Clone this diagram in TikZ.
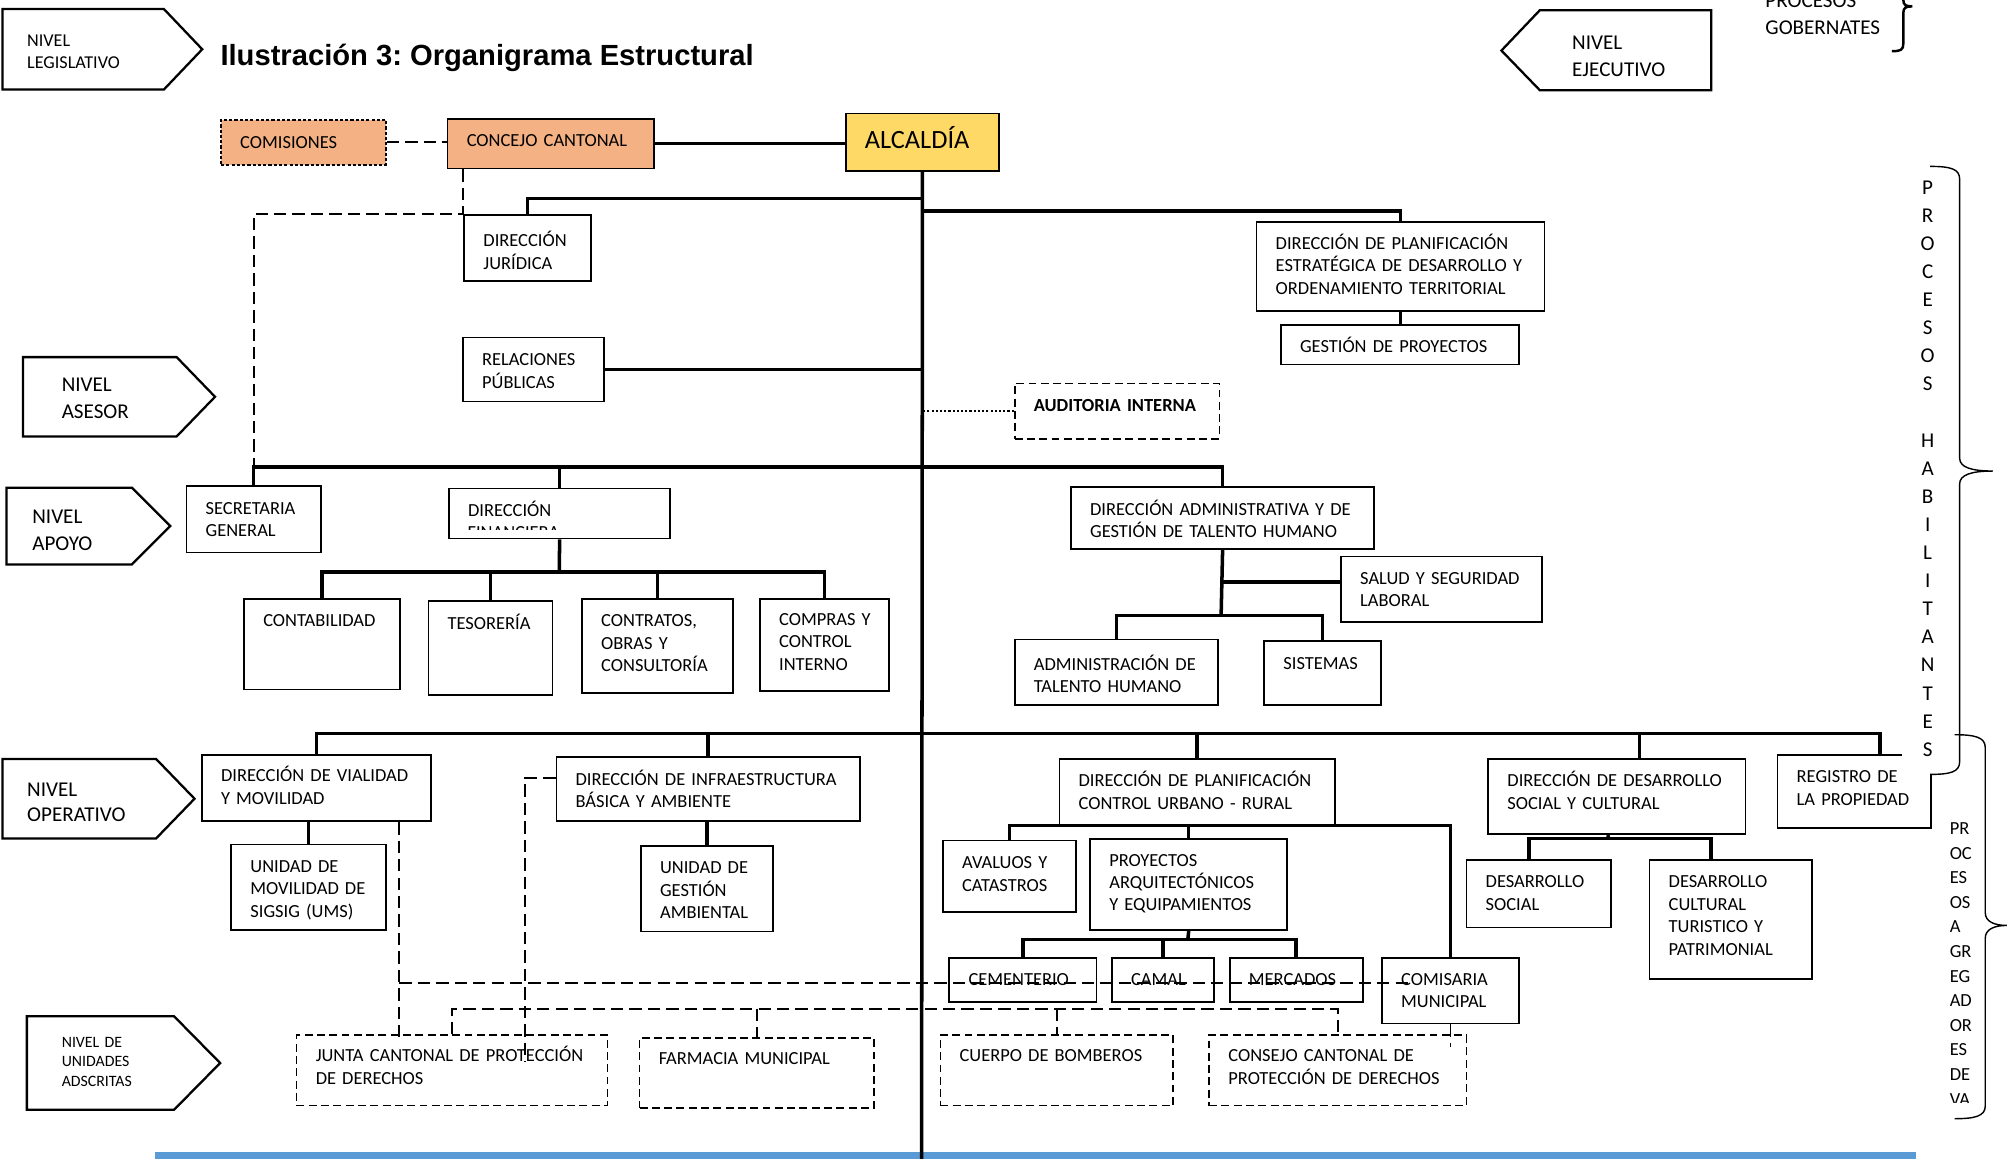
\documentclass[tikz,border=0pt]{standalone}
\usepackage{fontspec}
\setmainfont{Carlito}
\newfontfamily\titlefont{Liberation Sans}
\usepackage{xcolor}
\usepackage{tikz}
\definecolor{peach}{HTML}{F4B183}
\definecolor{gold}{HTML}{FFD966}
\definecolor{bandblue}{HTML}{5B9BD5}
\newcommand{\upx}{0.0256cm}
\frenchspacing

\begin{document}
\begin{tikzpicture}[
  x=0.0256cm, y=-0.0256cm,
  font=\fontsize{10.5}{12.75}\selectfont,
  unit/.style={draw, line width=1pt, anchor=north west, align=left, inner xsep=0.384cm, inner ysep=0pt},
  sz/.code n args={3}{%
    \pgfmathsetlengthmacro\ubw{(#1-30)*\upx}%
    \pgfmathsetlengthmacro\ubt{#3*\upx}%
    \pgfmathsetlengthmacro\ubd{(#2-#3)*\upx}%
    \tikzset{text width=\ubw, text height=\ubt, text depth=\ubd}},
  dunit/.style={unit, dash pattern=on 4.5pt off 2.5pt},
  conn/.style={line width=2pt},
  dashl/.style={line width=1.1pt, dash pattern=on 7pt off 3.5pt},
  dotl/.style={line width=0.8pt, dash pattern=on 1.2pt off 1.2pt},
  lvl/.style={line width=1.3pt, line join=miter},
  lvltxt/.style={anchor=base west, align=left, text width=3cm, inner sep=0pt},
  brc/.style={line width=0.8pt},
]
\useasboundingbox (0,0) rectangle (1568,905);
\fill[white] (0,0) rectangle (1568,905);
\fill[bandblue] (121,900) rectangle (1497,912);

\draw[lvl] (2,7) -- (128,7) -- (158,38.5) -- (128,70) -- (2,70) -- cycle;
\draw[lvl] (18,279) -- (138,279) -- (168,310) -- (138,341) -- (18,341) -- cycle;
\draw[lvl] (5,381) -- (103,381) -- (133,411) -- (103,441) -- (5,441) -- cycle;
\draw[lvl] (2,593) -- (122,593) -- (152,624) -- (122,655) -- (2,655) -- cycle;
\draw[lvl] (21,794) -- (136,794) -- (172,830.5) -- (136,867) -- (21,867) -- cycle;
\draw[lvl] (1337,8) -- (1203,8) -- (1173,39.5) -- (1203,70.5) -- (1337,70.5) -- cycle;
\node[lvltxt, font=\fontsize{10.3}{12.3}\selectfont] (leg) at (21,36.5) {NIVEL\\LEGISLATIVO};
\node[lvltxt, font=\fontsize{12}{15.2}\selectfont] (ase) at (48,306) {NIVEL\\ASESOR};
\node[lvltxt, font=\fontsize{12}{15.2}\selectfont] (apo) at (25,409) {NIVEL\\APOYO};
\node[lvltxt, font=\fontsize{12}{14.6}\selectfont] (ope) at (21,622) {NIVEL\\OPERATIVO};
\node[lvltxt, font=\fontsize{9}{11.1}\selectfont] (ads) at (48,818) {NIVEL DE\\UNIDADES\\ADSCRITAS};
\node[lvltxt, font=\fontsize{12}{15.3}\selectfont] (eje) at (1228,38.5) {NIVEL\\EJECUTIVO};

\node[anchor=base west, inner sep=0pt, font={\titlefont\bfseries\fontsize{16.6}{20}\selectfont}] (title) at (172,51.5) {Ilustración 3: Organigrama Estructural};
\node[lvltxt, text width=4cm, font=\fontsize{12}{15.6}\selectfont] (gob) at (1379,5.5) {PROCESOS\\GOBERNATES};
\draw[line width=1.4pt] (1478,-30) .. controls (1485,-30) and (1487,-28) .. (1487,-22) -- (1487,0) .. controls (1487,4) and (1489,5) .. (1494,5) .. controls (1489,5) and (1487,6) .. (1487,10) -- (1487,34) .. controls (1487,39) and (1485,40) .. (1478,40);

\node[unit, fill=peach, dash pattern=on 1.8pt off 1.2pt, sz={129}{35}{22}] (comis) at (172,93) {COMISIONES};
\node[unit, fill=peach, sz={161}{39}{22}] (concejo) at (349,92) {CONCEJO CANTONAL};
\node[unit, fill=gold, font=\fontsize{15}{18}\selectfont, sz={120}{45}{27}] (alcaldia) at (660,88) {ALCALDÍA};
\node[unit, sz={99}{52}{25}] (jur) at (362,167) {DIRECCIÓN\\JURÍDICA};
\node[unit, sz={225}{69}{21}] (planest) at (981,173) {DIRECCIÓN DE PLANIFICACIÓN\\ESTRATÉGICA DE DESARROLLO Y\\ORDENAMIENTO TERRITORIAL};
\node[unit, sz={186}{31}{22}] (gestproy) at (1000,253) {GESTIÓN DE PROYECTOS};
\node[unit, sz={110}{50}{22}] (relpub) at (361,263) {RELACIONES\\PÚBLICAS};
\node[dunit, font=\fontsize{10.5}{12.75}\selectfont\bfseries, sz={160}{43}{22}] (audit) at (792,299) {AUDITORIA INTERNA};
\node[unit, sz={105}{52}{22}] (secgen) at (145,379) {SECRETARIA\\GENERAL};
\node[unit, sz={173}{39}{22}] (dirfin) at (350,381) {DIRECCIÓN};
\begin{scope}
\clip (350,381) rectangle (523,414);
\node[lvltxt] (dirfin-cut) at (365,420.5) {FINANCIERA};
\end{scope}
\node[unit, sz={237}{48}{22}] (diradm) at (836,380) {DIRECCIÓN ADMINISTRATIVA Y DE\\GESTIÓN DE TALENTO HUMANO};
\node[unit, sz={157}{51}{22}] (salud) at (1047,434) {SALUD Y SEGURIDAD\\LABORAL};
\node[unit, sz={122}{71}{22}] (conta) at (190,467) {CONTABILIDAD};
\node[unit, sz={97}{73}{22}] (teso) at (334,469) {TESORERÍA};
\node[unit, sz={118}{74}{22}] (contr) at (454,467) {CONTRATOS,\\OBRAS~Y\\CONSULTORÍA};
\node[unit, sz={101}{72}{21}] (compr) at (593,467) {COMPRAS~Y\\CONTROL\\INTERNO};
\node[unit, sz={159}{51}{24}] (admth) at (792,499) {ADMINISTRACIÓN~DE\\TALENTO HUMANO};
\node[unit, sz={91}{50}{22}] (sist) at (987,500) {SISTEMAS};
\node[unit, sz={179}{52}{21}] (vial) at (157,589) {DIRECCIÓN DE VIALIDAD\\Y MOVILIDAD};
\node[unit, sz={121}{67}{22}] (ums) at (180,659) {UNIDAD DE\\MOVILIDAD~DE\\SIGSIG (UMS)};
\node[unit, sz={237}{50}{22}] (infra) at (434,591) {DIRECCIÓN DE INFRAESTRUCTURA\\BÁSICA Y AMBIENTE};
\node[unit, sz={103}{67}{22}] (uga) at (500,660) {UNIDAD DE\\GESTIÓN\\AMBIENTAL};
\node[unit, sz={215}{52}{22}] (plancu) at (827,592) {DIRECCIÓN DE PLANIFICACIÓN\\CONTROL URBANO - RURAL};
\node[unit, sz={104}{56}{22}] (aval) at (736,656) {AVALUOS~Y\\CATASTROS};
\node[unit, sz={154}{71}{21}] (proy) at (851,655) {PROYECTOS\\ARQUITECTÓNICOS\\Y EQUIPAMIENTOS};
\node[unit, sz={115}{34}{21}] (cem) at (741,748) {CEMENTERIO};
\node[unit, sz={80}{34}{21}] (camal) at (868,748) {CAMAL};
\node[unit, sz={104}{34}{21}] (merc) at (960,748) {MERCADOS};
\node[unit, sz={107}{51}{21}] (comisr) at (1079,748) {COMISARIA\\MUNICIPAL};
\node[unit, sz={201}{59}{22}] (dsoc) at (1162,592) {DIRECCIÓN DE DESARROLLO\\SOCIAL Y CULTURAL};
\node[unit, sz={113}{53}{22}] (desoc) at (1145,671) {DESARROLLO\\SOCIAL};
\node[unit, sz={127}{93}{22}] (decul) at (1288,671) {DESARROLLO\\CULTURAL\\TURISTICO~Y\\PATRIMONIAL};
\node[unit, sz={120}{57}{22}] (regis) at (1388,589) {REGISTRO~DE\\LA PROPIEDAD};
\node[dunit, sz={243}{55}{21}] (junta) at (231,808) {JUNTA CANTONAL DE PROTECCIÓN\\DE DERECHOS};
\node[dunit, sz={183}{55}{21}] (farm) at (499,810) {FARMACIA MUNICIPAL};
\node[dunit, sz={182}{55}{21}] (bomb) at (734,808) {CUERPO DE BOMBEROS};
\node[dunit, sz={201}{55}{21}] (ccpd) at (944,808) {CONSEJO CANTONAL DE\\PROTECCIÓN DE DERECHOS};

\coordinate (b-jur) at (720,155);
\coordinate (b-plan) at (720,165);
\coordinate (b-apoyo) at (720,365);
\coordinate (b-fin) at (437,447);
\coordinate (b-adm) at (954,481);
\coordinate (b-oper) at (720,573);
\coordinate (b-plancu) at (928,645);
\coordinate (b-proy) at (928,734);
\coordinate (b-dsoc) at (1256,655);
\coordinate (b-ads) at (720,788);
\coordinate (v-end) at (312,815);
\coordinate (m-end) at (1100,768);
\coordinate (i-top) at (410,608);
\coordinate (i-end) at (410,830);
\coordinate (c-end) at (1133,818);
\coordinate (spine-end) at (720,915);

\draw[conn] (concejo.east) -- (concejo.east -| alcaldia.west);
\draw[conn] (alcaldia.south) -- (spine-end);
\draw[conn] (b-jur) -| (jur.north);
\draw[conn] (b-plan) -| (planest.north);
\draw[conn] (planest.south) -- (planest.south |- gestproy.north);
\draw[conn] (relpub.east) -- (relpub.east -| b-apoyo);
\draw[conn] (secgen.north) |- (b-apoyo) -| (diradm.north);
\draw[conn] (b-apoyo -| dirfin.north) -- (dirfin.north);
\draw[conn] (dirfin.south) -- (b-fin);
\draw[conn] (conta.north) |- (b-fin) -| (compr.north);
\draw[conn] (b-fin -| teso.north) -- (teso.north);
\draw[conn] (b-fin -| contr.north) -- (contr.north);
\draw[conn] (diradm.south) -- (b-adm);
\draw[conn] (admth.north) |- (b-adm) -| (sist.north);
\draw[conn] ([yshift=5.5*\upx]salud.west) -- ([yshift=5.5*\upx]salud.west -| b-adm);
\draw[conn] (vial.north) |- (b-oper) -| ([xshift=20*\upx]regis.north);
\draw[conn] (b-oper -| infra.north) -- (infra.north);
\draw[conn] (b-oper -| plancu.north) -- (plancu.north);
\draw[conn] ([xshift=17.5*\upx]dsoc.north) |- (b-oper);
\draw[conn] (ums.north) -- (ums.north |- vial.south);
\draw[conn] (uga.north) -- (uga.north |- infra.south);
\draw[conn] (aval.north) |- (b-plancu) -| (comisr.north);
\draw[conn] (plancu.south -| proy.north) -- (proy.north);
\draw[conn] (proy.south) -- (b-proy);
\draw[conn] (cem.north) |- (b-proy) -| (merc.north);
\draw[conn] (b-proy -| camal.north) -- (camal.north);
\draw[conn] ([xshift=-6.5*\upx]dsoc.south) -- (b-dsoc);
\draw[conn] ([xshift=-7.5*\upx]desoc.north) |- (b-dsoc) -| ([xshift=-15.5*\upx]decul.north);

\draw[dashl] (comis.east) -- (comis.east -| concejo.west);
\draw[dashl] (concejo.south -| jur.north west) -- (jur.north west) -| (b-apoyo -| secgen.north);
\draw[dotl] (audit.west) -- (audit.west -| b-apoyo);
\draw[dashl] (vial.south -| v-end) -- (v-end);
\draw[dashl] (v-end |- m-end) -- (m-end);
\draw[dashl] (infra.west |- i-top) -- (i-top) -- (i-end);
\draw[dashl] (junta.north) |- (b-ads) -| (ccpd.north);
\draw[dashl] (b-ads -| farm.north) -- (farm.north);
\draw[dashl] (b-ads -| bomb.north) -- (bomb.north);
\draw[dashl] (comisr.south) -- (comisr.south |- c-end);

\node[fill=white, inner sep=0pt, text width={40*\upx}, align=center, minimum height={478*\upx}, font=\fontsize{12}{16}\selectfont] (habil) at (1506,366) {P\\R\\O\\C\\E\\S\\O\\S\\~\\H\\A\\B\\I\\L\\I\\T\\A\\N\\T\\E\\S};
\draw[brc] (1508,130) .. controls (1524,130) and (1531,132) .. (1531,140) -- (1531,358) .. controls (1531,365) and (1540,368) .. (1557,368) .. controls (1540,368) and (1531,371) .. (1531,378) -- (1531,595) .. controls (1531,603) and (1524,605) .. (1508,605);
\begin{scope}
\clip (1500,560) rectangle (1560,861);
\node[lvltxt, text width=1.2cm, font=\fontsize{10.5}{14}\selectfont] (agreg) at (1523,652) {PR\\OC\\ES\\OS\\A\\GR\\EG\\AD\\OR\\ES\\DE\\VA};
\end{scope}
\draw[brc] (1527,574) .. controls (1543,574) and (1551,576) .. (1551,584) -- (1551,713) .. controls (1551,720) and (1558,723) .. (1568,723) .. controls (1558,723) and (1551,726) .. (1551,733) -- (1551,864) .. controls (1551,872) and (1543,874) .. (1527,874);
\end{tikzpicture}
\end{document}
